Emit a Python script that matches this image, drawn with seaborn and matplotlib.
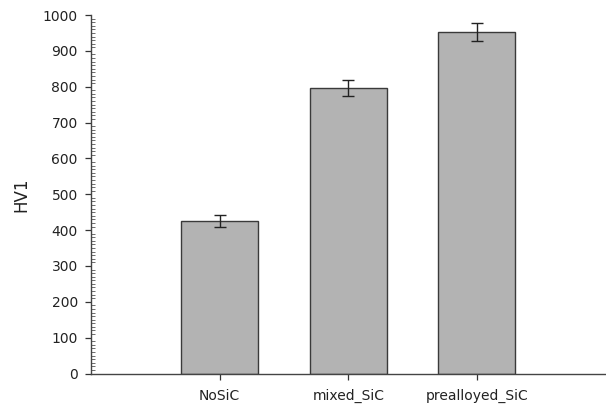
import numpy as np
import pandas as pd
import matplotlib
matplotlib.use("Agg")
import matplotlib.pyplot as plt
import seaborn as sns
from matplotlib.ticker import MultipleLocator

categories = ["NoSiC", "mixed_SiC", "prealloyed_SiC"]
hv1 = [425, 796, 953]
hv1_err = [16, 22, 26]
y_ticks = [0, 100, 200, 300, 400, 500, 600, 700, 800, 900, 1000]

sns.set_theme(style="white")
plt.rcParams['font.family'] = ['DejaVu Sans']

df = pd.DataFrame({"cat": categories, "hv1": hv1, "err": hv1_err})

fig = plt.figure(figsize=(6.06, 4.07), dpi=100)
ax = fig.add_axes([0.1502, 0.0823, 0.8490, 0.8808])

sns.barplot(data=df, x="cat", y="hv1", ax=ax, color="#b3b3b3", saturation=1,
            width=0.6, edgecolor="#3a3a3a", linewidth=1.0, errorbar=None)
ax.errorbar(np.arange(len(categories)), df["hv1"], yerr=df["err"], fmt="none",
            ecolor="#222222", elinewidth=1.0, capsize=4, capthick=1.0)

ax.set_xlim(-1.0, 3.0)
ax.set_ylim(0, 1000)
ax.set_yticks(y_ticks)
ax.yaxis.set_minor_locator(MultipleLocator(10))
ax.tick_params(axis="y", which="major", direction="out", length=4.5, width=0.9,
               color="#333333", labelsize=10, labelcolor="#222222", left=True, pad=5)
ax.tick_params(axis="y", which="minor", direction="in", length=3, width=0.6,
               color="#555555", left=True)
ax.tick_params(axis="x", which="major", direction="out", length=4.5, width=0.9,
               color="#333333", labelsize=10, labelcolor="#222222", bottom=True, pad=6.5)

for s in ["top", "right"]:
    ax.spines[s].set_visible(False)
for s in ["left", "bottom"]:
    ax.spines[s].set_color("#444444")
    ax.spines[s].set_linewidth(1.0)

ax.set_xlabel("")
ax.set_ylabel("HV1", fontsize=12, color="#222222")
ax.yaxis.set_label_coords(-0.136, 0.5)
ax.yaxis.label.set_verticalalignment("center")

fig.savefig("out.png", dpi=100)
